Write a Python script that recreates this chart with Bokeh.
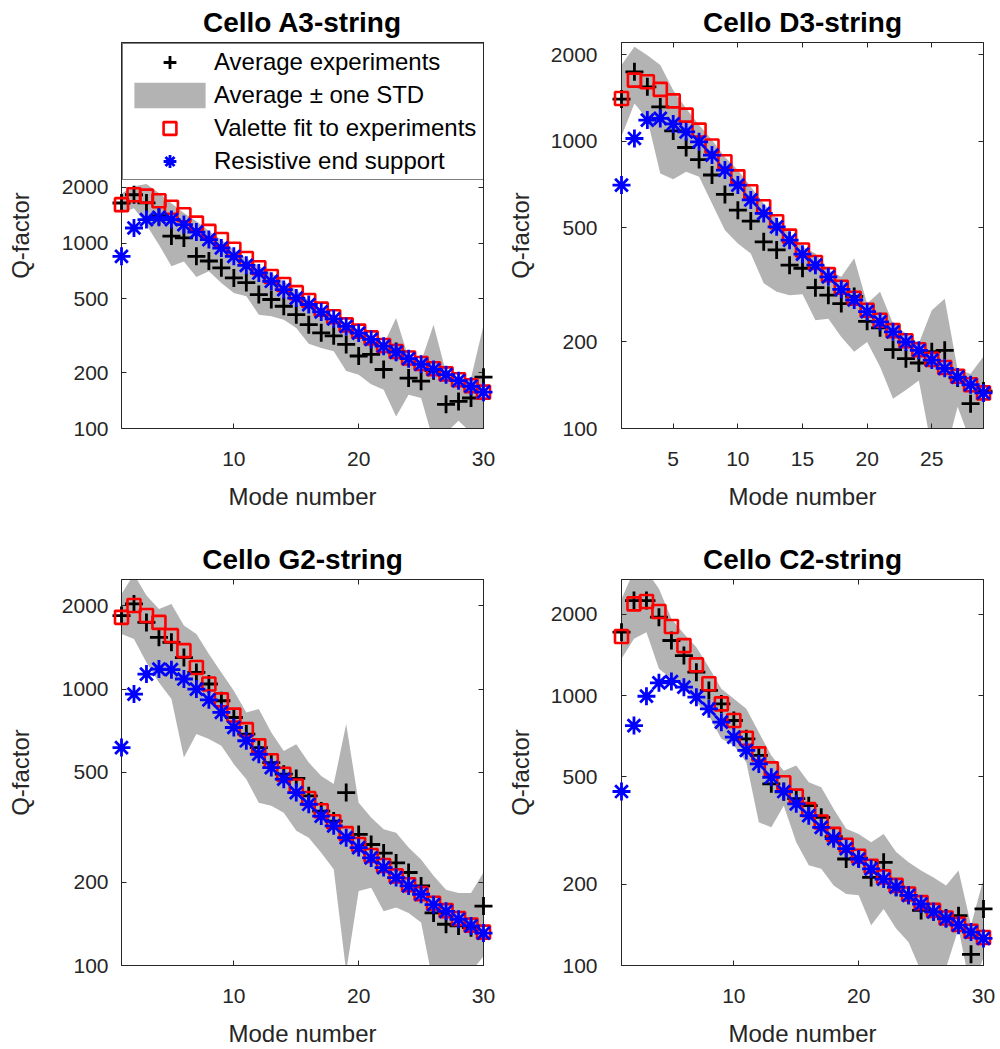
from bokeh.plotting import figure
from bokeh.models import (Range1d, LogAxis, LinearAxis, FixedTicker, Legend, LegendItem,
                          PrintfTickFormatter)
from bokeh.layouts import column, row
from bokeh.embed import file_html
from bokeh.resources import INLINE

# ---------------- data ----------------
modes30 = list(range(1, 31))
modes29 = list(range(1, 30))

a3_avg = [1643, 1820, 1645, 1400, 1090, 1065, 848, 800, 735, 648, 612, 527, 496, 456, 411,
          363, 328, 316, 284, 246, 251, 208, 260, 187, 180, 205, 135, 140, 146, 189]
a3_lo = [1450, 1540, 1250, 980, 750, 796, 655, 705, 609, 538, 516, 411, 403, 386, 348,
         286, 272, 261, 204, 195, 173, 162, 116, 152, 146, 85, 95, 110, 95, 90]
a3_hi = [1850, 2020, 2080, 1860, 1640, 1450, 1310, 1160, 1040, 920, 830, 750, 690, 620, 560,
         490, 440, 400, 365, 335, 310, 285, 394, 240, 230, 363, 200, 185, 187, 360]
a3_fit = [1610, 1820, 1790, 1690, 1560, 1420, 1280, 1155, 1045, 925, 825, 735, 660, 598, 540,
          490, 440, 400, 362, 335, 308, 280, 260, 240, 224, 210, 197, 183, 170, 157]
a3_res = [848, 1205, 1337, 1375, 1337, 1257, 1146, 1043, 940, 848, 758, 689, 622, 561, 505,
          466, 425, 390, 355, 327, 302, 278, 258, 238, 222, 208, 195, 181, 169, 157]

d3_avg = [1400, 1742, 1545, 1315, 1085, 950, 862, 762, 652, 575, 527, 446, 418, 370, 361,
          309, 291, 272, 288, 236, 224, 188, 175, 169, 185, 187, 150, 122, 135]
d3_lo = [1040, 1352, 1190, 771, 736, 782, 751, 607, 490, 440, 406, 320, 299, 291, 293,
         238, 241, 208, 185, 200, 164, 127, 136, 147, 85, 80, 119, 90, 95]
d3_hi = [1838, 2128, 1991, 1838, 1504, 1298, 1137, 1008, 881, 793, 693, 607, 538, 477, 430,
         406, 356, 337, 391, 272, 299, 232, 214, 198, 258, 283, 160, 155, 178]
d3_fit = [1407, 1630, 1608, 1513, 1380, 1231, 1092, 961, 847, 751, 666, 591, 524, 467, 418,
          378, 343, 310, 284, 258, 238, 219, 202, 188, 174, 163, 152, 142, 133]
d3_res = [703, 1021, 1183, 1199, 1147, 1077, 994, 894, 793, 703, 624, 560, 503, 452, 404,
          370, 337, 305, 280, 255, 235, 217, 200, 187, 173, 162, 151, 142, 133]

g2_avg = [1844, 2032, 1742, 1538, 1475, 1300, 1148, 1043, 907, 789, 687, 614, 542, 492, 475,
          411, 362, 333, 422, 298, 274, 255, 235, 217, 194, 155, 141, 139, 137, 164]
g2_lo = [1582, 1518, 1248, 1057, 920, 565, 687, 659, 623, 535, 472, 388, 378, 357, 307,
         290, 256, 223, 95, 186, 191, 157, 162, 155, 143, 85, 90, 95, 95, 108]
g2_hi = [2208, 2600, 2178, 1949, 2032, 1696, 1582, 1340, 1148, 986, 823, 847, 696, 597, 632,
         542, 485, 453, 747, 388, 343, 311, 302, 267, 242, 211, 188, 183, 183, 217]
g2_fit = [1817, 2004, 1844, 1742, 1560, 1377, 1197, 1043, 914, 805, 713, 623, 550, 492, 446,
          402, 363, 331, 300, 274, 250, 230, 211, 196, 182, 168, 158, 148, 140, 132]
g2_res = [614, 959, 1133, 1181, 1175, 1087, 1000, 914, 823, 726, 650, 581, 520, 472, 422,
          383, 347, 320, 290, 267, 245, 226, 208, 194, 181, 166, 157, 147, 139, 131]

c2_avg = [1716, 2248, 2248, 1950, 1599, 1406, 1220, 1044, 931, 808, 691, 600, 471, 440, 415,
          391, 354, 300, 248, 250, 212, 241, 195, 182, 160, 158, 150, 153, 110, 162]
c2_lo = [1367, 1622, 1716, 1256, 1153, 1074, 944, 843, 691, 653, 566, 339, 325, 391, 286,
         235, 228, 198, 184, 182, 141, 162, 137, 122, 95, 95, 98, 137, 80, 107]
c2_hi = [2280, 2900, 2900, 2484, 1923, 1693, 1510, 1273, 1059, 972, 893, 731, 599, 527, 550,
         477, 457, 380, 321, 307, 286, 307, 263, 241, 225, 212, 198, 225, 141, 209]
c2_fit = [1655, 2186, 2229, 2047, 1801, 1531, 1299, 1105, 931, 808, 695, 608, 535, 475, 424,
          378, 340, 306, 279, 254, 233, 213, 198, 184, 171, 160, 150, 142, 134, 127]
c2_res = [441, 774, 994, 1114, 1127, 1074, 986, 893, 797, 701, 626, 558, 498, 441, 397,
          359, 325, 295, 271, 248, 228, 209, 195, 182, 169, 158, 149, 141, 133, 126]

titles = ["Cello A3-string", "Cello D3-string", "Cello G2-string", "Cello C2-string"]
y_ticks = [100, 200, 500, 1000, 2000]
x_ticks_10 = [10, 20, 30]
x_ticks_5 = [5, 10, 15, 20, 25]
legend_labels = ["Average experiments", "Average \u00b1 one STD",
                 "Valette fit to experiments", "Resistive end support"]

FONT = "Liberation Sans"
AX = "#262626"
BAND = "#b3b3b3"


def style_axis(ax, ticks, labelled, label=None, standoff=13, label_standoff=8):
    ax.ticker = FixedTicker(ticks=ticks)
    ax.axis_line_color = AX
    ax.axis_line_width = 1
    ax.major_tick_line_color = AX
    ax.major_tick_in = 5
    ax.major_tick_out = 0
    ax.minor_tick_in = 0
    ax.minor_tick_out = 0
    ax.major_label_text_font = FONT
    ax.major_label_text_color = AX
    if labelled:
        ax.major_label_text_font_size = "21px"
        ax.major_label_standoff = standoff
    else:
        ax.major_label_text_font_size = "0px"
        ax.major_label_standoff = 0
    if label:
        ax.axis_label = label
        ax.axis_label_text_font = FONT
        ax.axis_label_text_font_size = "24px"
        ax.axis_label_text_font_style = "normal"
        ax.axis_label_text_color = AX
        ax.axis_label_standoff = label_standoff


def panel(title, modes, avg, lo, hi, fit, res, xmax, ymax, xticks, height, top, bottom,
          ylab_standoff, ylab_label_standoff, legend=False):
    p = figure(width=500, height=height, x_range=Range1d(1, xmax), y_range=Range1d(100, ymax),
               y_axis_type="log", output_backend="svg", toolbar_location=None,
               min_border_left=121, min_border_right=17, min_border_top=top,
               min_border_bottom=bottom)
    p.grid.visible = False
    p.outline_line_color = AX
    p.background_fill_color = "white"
    p.border_fill_color = "white"

    band = p.varea(x=modes, y1=lo, y2=hi, fill_color=BAND, fill_alpha=1.0)
    r_avg = p.scatter(modes, avg, marker="cross", size=18, line_color="black",
                      line_width=2.8, level="overlay")
    r_fit = p.scatter(modes, fit, marker="square", size=13, fill_color=None,
                      line_color="#ff0000", line_width=2.6, level="overlay")
    r_res = p.scatter(modes, res, marker="asterisk", size=18, line_color="#0000ff",
                      line_width=2.8, level="overlay")

    p.title.text = title
    p.title.align = "center"
    p.title.text_font = FONT
    p.title.text_font_size = "28px"
    p.title.text_font_style = "bold"
    p.title.text_color = "black"
    p.title.standoff = 9

    style_axis(p.xaxis[0], xticks, True, "Mode number", standoff=23, label_standoff=14)
    style_axis(p.yaxis[0], y_ticks, True, "Q-factor", standoff=ylab_standoff,
               label_standoff=ylab_label_standoff)
    p.yaxis[0].formatter = PrintfTickFormatter(format="%d")

    ra = LogAxis()
    style_axis(ra, y_ticks, False)
    p.add_layout(ra, "right")
    ta = LinearAxis()
    style_axis(ta, xticks, False)
    p.add_layout(ta, "above")

    if legend:
        lg = Legend(items=[LegendItem(label=legend_labels[0], renderers=[r_avg]),
                           LegendItem(label=legend_labels[1], renderers=[band]),
                           LegendItem(label=legend_labels[2], renderers=[r_fit]),
                           LegendItem(label=legend_labels[3], renderers=[r_res])],
                    location="top_left", margin=1, padding=2, spacing=1,
                    glyph_width=89, glyph_height=32, label_height=32, label_width=268,
                    label_standoff=0,
                    label_text_font=FONT, label_text_font_size="24px",
                    label_text_color="black",
                    border_line_color="black", border_line_width=1,
                    background_fill_color="white", background_fill_alpha=1.0)
        p.add_layout(lg)
    return p


p1 = panel(titles[0], modes30, a3_avg, a3_lo, a3_hi, a3_fit, a3_res, 30, 12050,
           x_ticks_10, 534, 41, 106, 13, 25, legend=True)
p2 = panel(titles[1], modes29, d3_avg, d3_lo, d3_hi, d3_fit, d3_res, 29, 2203,
           x_ticks_5, 534, 41, 106, 24, 14)
p3 = panel(titles[2], modes30, g2_avg, g2_lo, g2_hi, g2_fit, g2_res, 30, 2490,
           x_ticks_10, 515, 45, 84, 13, 25)
p4 = panel(titles[3], modes30, c2_avg, c2_lo, c2_hi, c2_fit, c2_res, 30, 2690,
           x_ticks_10, 515, 45, 84, 24, 14)

layout = column(row(p1, p2), row(p3, p4))
open("out.html", "w").write(file_html(layout, INLINE))
